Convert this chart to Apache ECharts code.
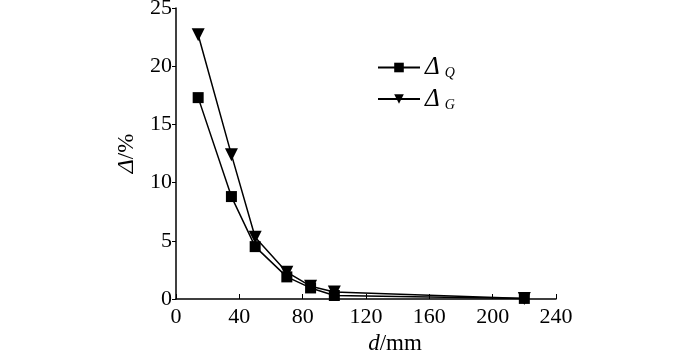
<!DOCTYPE html>
<html lang="en">
<head>
    <meta charset="utf-8">
    <title>Δ - d</title>
    <script type="text/javascript" src="https://cdn.jsdelivr.net/npm/echarts@6/dist/echarts.min.js"></script>
    <style>
        html, body { margin: 0; padding: 0; background: #fff; }
    </style>
</head>
<body>
<div id="main" style="width: 700px;height:350px;"></div>
<script type="text/javascript">
    // 数据
    var dValues = [14, 35, 50, 70, 85, 100, 220];
    var deltaQ = [17.3, 8.8, 4.5, 1.9, 0.95, 0.3, 0.05];
    var deltaG = [22.7, 12.4, 5.3, 2.3, 1.1, 0.6, 0.05];
    var xTicks = [0, 40, 80, 120, 160, 200, 240];
    var yTicks = [0, 5, 10, 15, 20, 25];

    function pairs(xs, ys) {
        return xs.map(function (x, i) { return [x, ys[i]]; });
    }

    var font = 'Liberation Serif';
    var myChart = echarts.init(document.getElementById('main'));

    var option = {
        animation: false,
        textStyle: { fontFamily: font, color: '#000' },
        grid: { left: 176, right: 144, top: 8, bottom: 51, outerBoundsMode: 'none', containLabel: false },
        legend: {
            orient: 'vertical',
            left: 372,
            top: 50,
            itemWidth: 42,
            itemHeight: 12,
            itemGap: 6,
            data: ['Q', 'G'],
            formatter: function (name) {
                return '{a|Δ}{b|' + name + '}';
            },
            textStyle: {
                rich: {
                    a: { fontFamily: font, fontStyle: 'italic', fontSize: 25, color: '#000' },
                    b: { fontFamily: font, fontStyle: 'italic', fontSize: 14, color: '#000', padding: [12, 0, 0, 5] }
                }
            }
        },
        xAxis: {
            type: 'value',
            min: 0,
            max: 240,
            interval: 40,
            name: '{i|d}/mm',
            nameLocation: 'middle',
            nameGap: 29,
            nameTextStyle: {
                fontFamily: font, fontSize: 23, color: '#000',
                padding: [0, 0, 0, 58],
                rich: { i: { fontFamily: font, fontStyle: 'italic', fontSize: 23, color: '#000' } }
            },
            axisLine: { lineStyle: { color: '#000', width: 1.5 } },
            axisTick: { inside: true, length: 5, lineStyle: { color: '#000' } },
            axisLabel: {
                fontFamily: font, fontSize: 22, color: '#000', margin: 7,
                customValues: xTicks
            },
            splitLine: { show: false }
        },
        yAxis: {
            type: 'value',
            min: 0,
            max: 25,
            interval: 5,
            name: '{i|Δ}/%',
            nameLocation: 'middle',
            nameGap: 35,
            nameTextStyle: {
                fontFamily: font, fontSize: 23, color: '#000',
                rich: { i: { fontFamily: font, fontStyle: 'italic', fontSize: 24, color: '#000' } }
            },
            axisLine: { show: true, lineStyle: { color: '#000', width: 1.5 } },
            axisTick: { show: true, length: 4, lineStyle: { color: '#000' } },
            axisLabel: {
                fontFamily: font, fontSize: 22, color: '#000', margin: 4,
                customValues: yTicks
            },
            splitLine: { show: false }
        },
        series: [
            {
                name: 'Q',
                type: 'line',
                data: pairs(dValues, deltaQ),
                symbol: 'rect',
                symbolSize: 11,
                lineStyle: { color: '#000', width: 1.5 },
                itemStyle: { color: '#000' }
            },
            {
                name: 'G',
                type: 'line',
                data: pairs(dValues, deltaG),
                symbol: 'triangle',
                symbolRotate: 180,
                symbolSize: 13,
                lineStyle: { color: '#000', width: 1.5 },
                itemStyle: { color: '#000' }
            }
        ]
    };

    myChart.setOption(option);
</script>
</body>
</html>
